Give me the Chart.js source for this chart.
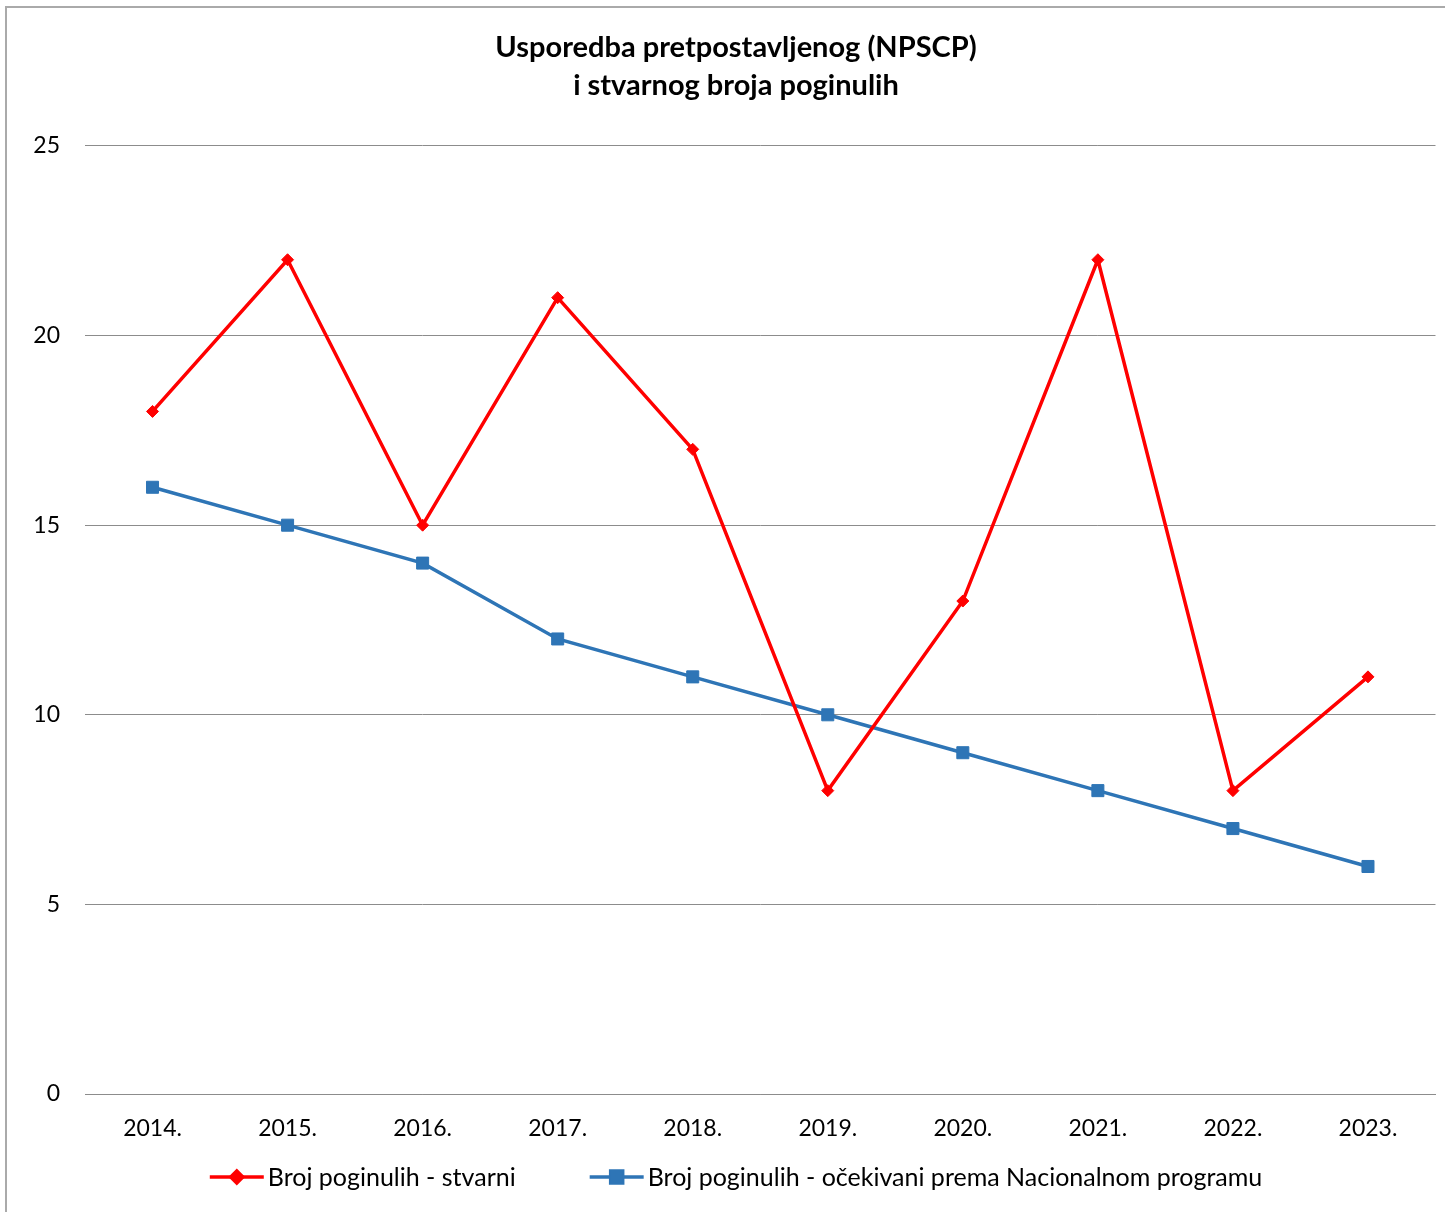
<!DOCTYPE html>
<html>
<head>
<meta charset="utf-8">
<script src="https://cdn.jsdelivr.net/npm/chart.js@4.4.1/dist/chart.umd.min.js"></script>
<style>
  html, body { margin: 0; padding: 0; background: #fff; overflow: hidden; }
  #wrap { position: relative; width: 1445px; height: 1212px; }
  #frame { position: absolute; left: 5px; top: 6px; width: 1500px; height: 1300px; border: 2px solid #aaaaaa; box-sizing: border-box; }
  canvas { position: absolute; left: 0; top: 0; }
</style>
</head>
<body>
<div id="wrap">
  <div id="frame"></div>
  <canvas id="chart" width="1445" height="1212"></canvas>
</div>
<script>
const years = ['2014.', '2015.', '2016.', '2017.', '2018.', '2019.', '2020.', '2021.', '2022.', '2023.'];
const actual = [18, 22, 15, 21, 17, 8, 13, 22, 8, 11];
const expected = [16, 15, 14, 12, 11, 10, 9, 8, 7, 6];
const titleLines = ['Usporedba pretpostavljenog (NPSCP)', 'i stvarnog broja poginulih'];
const seriesNames = ['Broj poginulih - stvarni', 'Broj poginulih - očekivani prema Nacionalnom programu'];

const FONT = 'Lato, "Liberation Sans", sans-serif';
const RED = '#ff0000';
const BLUE = '#2e75b6';

// legend drawn by hand: line with marker, like the office chart
const bottomLegend = {
  id: 'bottomLegend',
  afterDraw(chart) {
    const ctx = chart.ctx;
    const y = 1177;
    ctx.save();
    ctx.font = '25px ' + FONT;
    ctx.textBaseline = 'middle';
    const items = chart.data.datasets.map(ds => ({
      ds, w: 54 + 4 + ctx.measureText(ds.label).width
    }));
    const gap = 74;
    const total = items.reduce((s, it) => s + it.w, 0) + gap * (items.length - 1);
    let x = 736 - total / 2;
    items.forEach(({ ds, w }) => {
      ctx.strokeStyle = ds.borderColor;
      ctx.lineWidth = 3.5;
      ctx.beginPath();
      ctx.moveTo(x, y);
      ctx.lineTo(x + 54, y);
      ctx.stroke();
      Chart.helpers.drawPoint(ctx, {
        pointStyle: ds.pointStyle, radius: ds.pointRadius, borderWidth: 1
      }, x + 27, y);
      ctx.fillStyle = ds.borderColor;
      ctx.fill();
      ctx.fillStyle = '#000';
      ctx.fillText(ds.label, x + 58, y + 1);
      x += w + gap;
    });
    ctx.restore();
  }
};

new Chart(document.getElementById('chart'), {
  type: 'line',
  data: {
    labels: years,
    datasets: [
      {
        label: seriesNames[0],
        data: actual,
        borderColor: RED,
        backgroundColor: RED,
        borderWidth: 3.5,
        pointStyle: 'rectRot',
        pointRadius: 6,
        pointBorderWidth: 1,
        tension: 0
      },
      {
        label: seriesNames[1],
        data: expected,
        borderColor: BLUE,
        backgroundColor: BLUE,
        borderWidth: 3.5,
        pointStyle: 'rect',
        pointRadius: 8.5,
        pointBorderWidth: 1,
        tension: 0
      }
    ]
  },
  options: {
    responsive: false,
    animation: false,
    layout: { padding: { left: 28, right: 1, top: 0, bottom: 70 } },
    plugins: {
      legend: { display: false },
      tooltip: { enabled: false },
      title: {
        display: true,
        text: titleLines,
        color: '#000',
        font: { family: FONT, size: 29, weight: 'bold', lineHeight: 1.31 },
        padding: { top: 29, bottom: 41 }
      }
    },
    scales: {
      x: {
        offset: true,
        grid: { display: false, drawTicks: false },
        border: { display: true, color: '#8c8c8c', width: 1 },
        ticks: { color: '#000', font: { family: FONT, size: 23 }, padding: 21 },
        afterFit(scale) { scale.height = 48; }
      },
      y: {
        min: 0,
        max: 25,
        ticks: { stepSize: 5, color: '#000', font: { family: FONT, size: 23 }, padding: 25 },
        grid: { color: '#8c8c8c', drawTicks: false },
        border: { display: false },
        afterFit(scale) { scale.width = 57; }
      }
    }
  },
  plugins: [bottomLegend]
});
</script>
</body>
</html>
